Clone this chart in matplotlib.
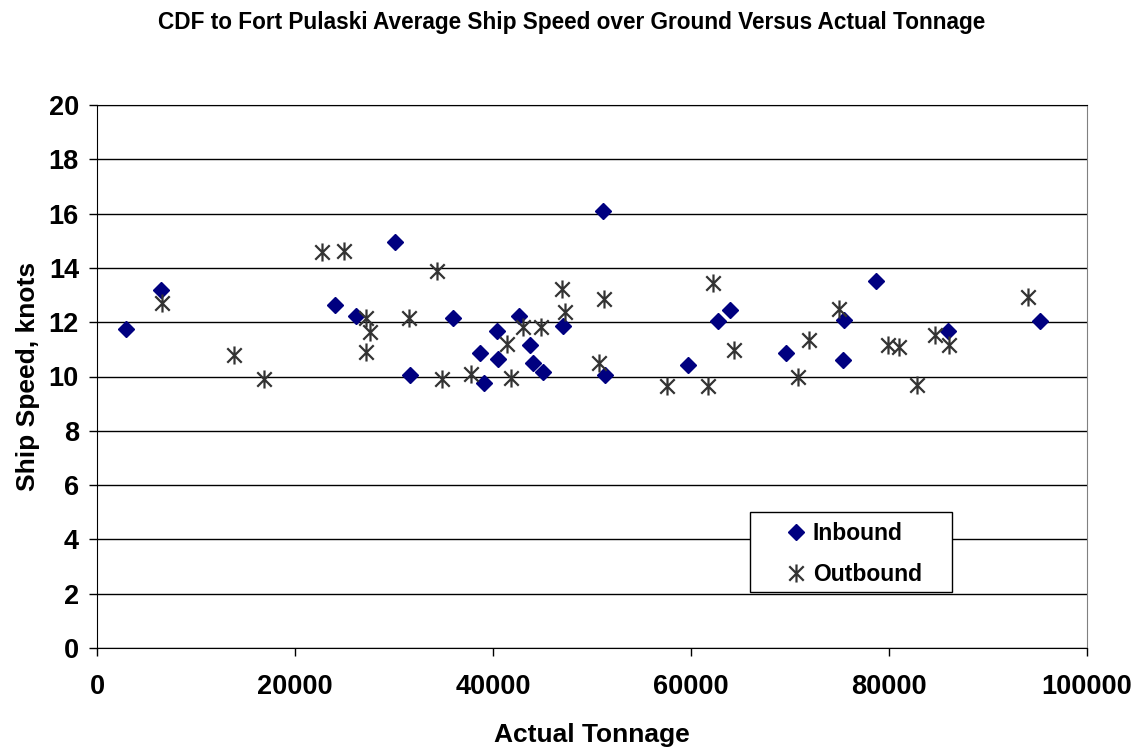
import matplotlib.pyplot as plt
from matplotlib.path import Path
from matplotlib.patches import Rectangle

plt.rcParams['font.family'] = ['Liberation Sans', 'DejaVu Sans']

# Inbound transits: actual tonnage and average speed over ground (knots)
inbound_tons = [2900, 6500, 24000, 26200, 30100, 31600, 36000, 39100, 38700,
                40400, 40500, 42600, 43700, 44000, 45000, 47100, 51100, 51300,
                59700, 62700, 63900, 69600, 75500, 75400, 78700, 86000, 95300]
inbound_speed = [11.76, 13.18, 12.64, 12.22, 14.97, 10.07, 12.16, 9.77, 10.86,
                 11.69, 10.66, 12.23, 11.16, 10.5, 10.16, 11.86, 16.08, 10.07,
                 10.43, 12.04, 12.45, 10.87, 12.08, 10.6, 13.5, 11.67, 12.04]

# Outbound transits
outbound_tons = [6600, 13800, 16900, 22700, 24900, 27200, 27600, 27200, 31500,
                 34300, 34800, 37800, 41400, 41800, 43000, 44800, 47000, 47300,
                 51200, 50700, 57600, 61700, 62200, 64300, 70800, 71900, 74900,
                 79900, 81000, 82800, 84600, 86100, 94000]
outbound_speed = [12.69, 10.81, 9.9, 14.58, 14.62, 12.17, 11.64, 10.89, 12.15,
                  13.87, 9.9, 10.08, 11.21, 9.94, 11.84, 11.84, 13.22, 12.39,
                  12.87, 10.5, 9.65, 9.65, 13.44, 10.96, 10.0, 11.34, 12.5,
                  11.16, 11.1, 9.7, 11.53, 11.16, 12.94]

x_ticks = [0, 20000, 40000, 60000, 80000, 100000]
y_ticks = [0, 2, 4, 6, 8, 10, 12, 14, 16, 18, 20]

# six-armed asterisk marker (X plus vertical bar)
star = Path([(-1, -1), (1, 1), (-1, 1), (1, -1), (0, -1.25), (0, 1.25)],
            [Path.MOVETO, Path.LINETO, Path.MOVETO, Path.LINETO,
             Path.MOVETO, Path.LINETO])

fig = plt.figure(figsize=(11.44, 7.53), dpi=100)
ax = fig.add_axes([0.0848, 0.1394, 0.8654, 0.7212])

ax.set_axisbelow(True)
ax.grid(axis='y', color='black', linewidth=1.0)

ax.plot(inbound_tons, inbound_speed, linestyle='none', marker='D',
        markersize=8.5, color='#000080', label='Inbound')
ax.plot(outbound_tons, outbound_speed, linestyle='none', marker=star,
        markersize=13, markerfacecolor='none', markeredgecolor='#333333',
        markeredgewidth=1.6, label='Outbound')

ax.set_xlim(0, 100000)
ax.set_ylim(0, 20)
ax.set_xticks(x_ticks)
ax.set_yticks(y_ticks)
ax.set_xticklabels([str(t) for t in x_ticks], fontsize=19.5, fontweight='bold')
ax.set_yticklabels([str(t) for t in y_ticks], fontsize=19.5, fontweight='bold')
ax.tick_params(axis='both', direction='out', length=6, width=1, color='black')
ax.tick_params(axis='x', pad=13)
ax.tick_params(axis='y', pad=7)

for side in ['left', 'bottom', 'top']:
    ax.spines[side].set_color('black')
ax.spines['right'].set_color('#808080')

ax.set_xlabel('Actual Tonnage', fontsize=19, fontweight='bold', labelpad=16)
ax.set_ylabel('Ship Speed, knots', fontsize=19, fontweight='bold', labelpad=6)
fig.suptitle('CDF to Fort Pulaski Average Ship Speed over Ground Versus Actual Tonnage',
             fontsize=16.3, fontweight='bold', y=0.985)

# legend box drawn separately so its width can be set freely
ax.add_patch(Rectangle((0.66, 0.103), 0.204, 0.1475, transform=ax.transAxes,
                       facecolor='white', edgecolor='black', linewidth=1.0,
                       zorder=5))
leg = ax.legend(loc='center left', bbox_to_anchor=(0.694, 0.173),
                borderaxespad=0, borderpad=0, frameon=False,
                handlelength=1.0, handletextpad=0.25, labelspacing=0.8,
                prop={'weight': 'bold', 'size': 16.5})
leg.set_zorder(6)

fig.savefig('out.png', dpi=100)
